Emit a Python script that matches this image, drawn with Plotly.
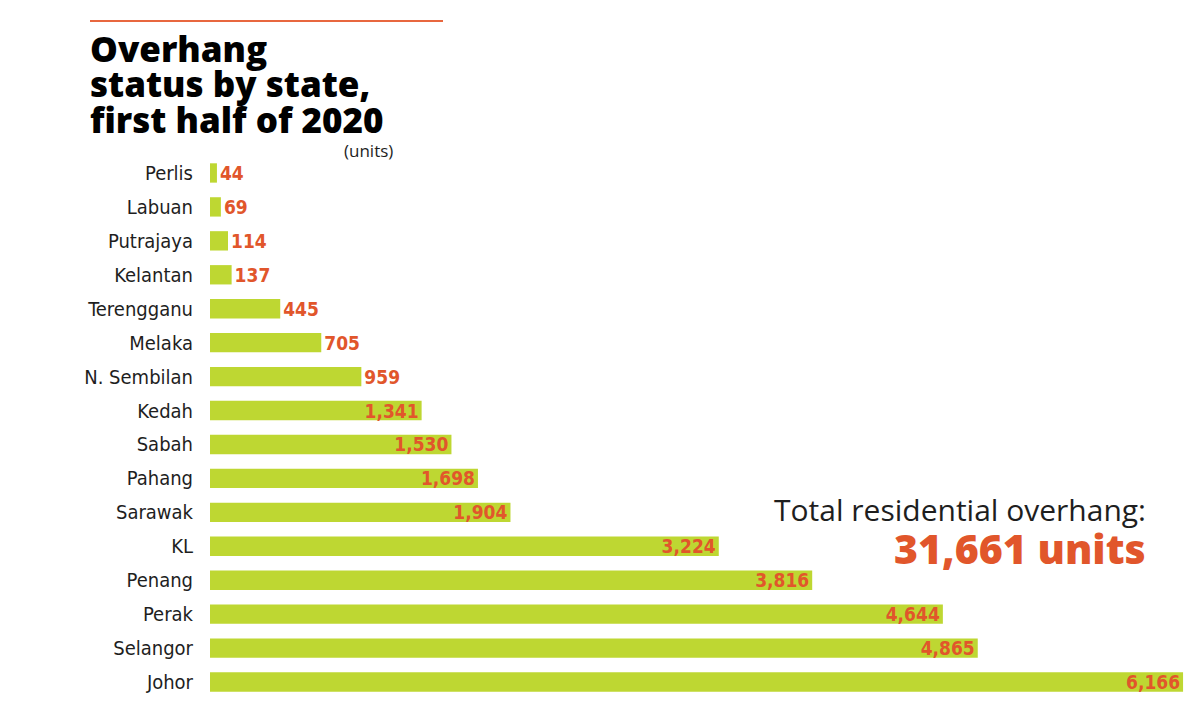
import plotly.graph_objects as go

# Data
states = ["Perlis", "Labuan", "Putrajaya", "Kelantan", "Terengganu", "Melaka",
          "N. Sembilan", "Kedah", "Sabah", "Pahang", "Sarawak", "KL", "Penang",
          "Perak", "Selangor", "Johor"]
units = [44, 69, 114, 137, 445, 705, 959, 1341, 1530, 1698, 1904, 3224, 3816,
         4644, 4865, 6166]
total_units = 31661

title_lines = ["Overhang", "status by state,", "first half of 2020"]

GREEN = "#bed732"
ORANGE = "#e1562b"
TEXT = "#1e1e1e"

# the page puts an 8px body margin round the figure, so work in page pixels
# and shift everything back by that much
OFF = 8
W, H = 1200, 715
L, R, T, B = 210 - OFF, 10 + OFF, 156 - OFF, 16 + OFF
plot_w = W - L - R
plot_h = H - T - B


def px_x(x):
    return (x - OFF - L) / plot_w


def px_y(y):
    return (H - B - (y - OFF)) / plot_h


# big values sit inside the bar end, small ones just outside
positions = ["inside" if v >= 1000 else "outside" for v in units]

fig = go.Figure(go.Bar(
    x=units,
    y=states,
    orientation="h",
    marker=dict(color=GREEN, line=dict(width=0)),
    width=0.57,
    text=[f"{v:,}" for v in units],
    textposition=positions,
    insidetextanchor="end",
    constraintext="none",
    cliponaxis=False,
    textfont=dict(family="Liberation Sans Narrow, DejaVu Sans Condensed, sans-serif",
                  size=19, color=ORANGE, weight="bold"),
    hoverinfo="skip",
))

title_font = dict(family="Open Sans, sans-serif", size=35, color="#000000", weight=800)
annotations = []
for line, yc in zip(title_lines, [48, 84, 119]):
    annotations.append(dict(text=line, x=px_x(88), y=px_y(yc), xref="paper", yref="paper",
                            xanchor="left", yanchor="middle", showarrow=False,
                            font=title_font))

annotations += [
    dict(text="(units)", x=px_x(395), y=px_y(151), xref="paper", yref="paper",
         xanchor="right", yanchor="middle", showarrow=False,
         font=dict(family="Open Sans, sans-serif", size=17, color=TEXT)),
    dict(text="Total residential overhang:", x=px_x(1148), y=px_y(509), xref="paper",
         yref="paper", xanchor="right", yanchor="middle", showarrow=False,
         font=dict(family="Open Sans, sans-serif", size=30, color=TEXT)),
    dict(text=f"{total_units:,} units", x=px_x(1148), y=px_y(548), xref="paper",
         yref="paper", xanchor="right", yanchor="middle", showarrow=False,
         font=dict(family="Open Sans, sans-serif", size=41, color=ORANGE, weight=800)),
]

fig.update_layout(
    width=W, height=H,
    margin=dict(l=L, r=R, t=T, b=B),
    paper_bgcolor="white",
    plot_bgcolor="white",
    showlegend=False,
    annotations=annotations,
    uniformtext=dict(minsize=19, mode="show"),
    shapes=[dict(type="line", xref="paper", yref="paper",
                 x0=px_x(90), x1=px_x(443), y0=px_y(21), y1=px_y(21),
                 line=dict(color="#e8673f", width=2))],
)

fig.update_xaxes(range=[0, 6210], showgrid=False, zeroline=False,
                 showticklabels=False, showline=False, fixedrange=True)
fig.update_yaxes(autorange="reversed", showgrid=False, zeroline=False, showline=False,
                 ticks="", ticklabelstandoff=16,
                 tickfont=dict(family="Liberation Sans Narrow, DejaVu Sans Condensed, sans-serif",
                               size=20, color=TEXT))

fig.write_html("out.html")
